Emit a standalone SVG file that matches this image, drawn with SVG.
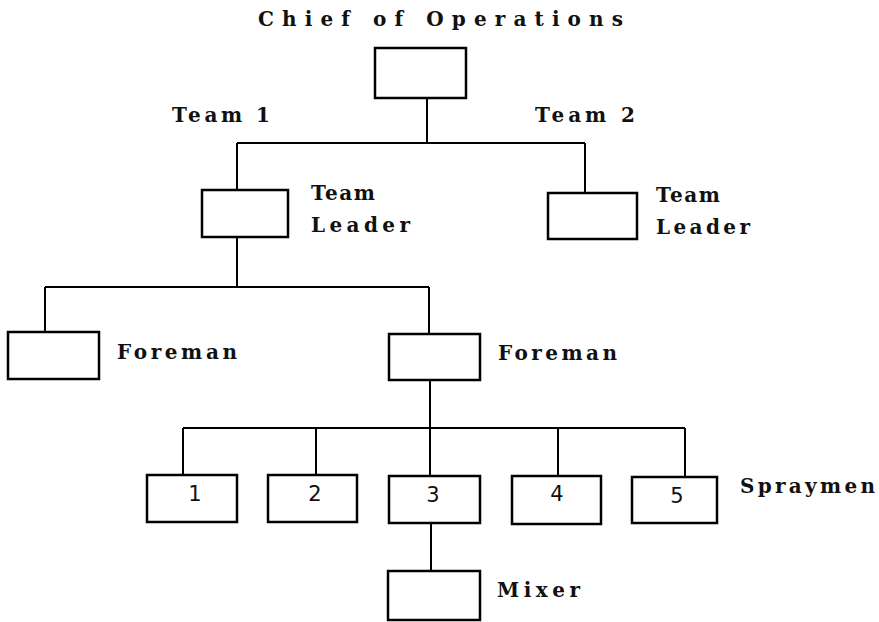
<svg xmlns="http://www.w3.org/2000/svg" width="879" height="622" viewBox="0 0 879 622">
<style>
.box{fill:none;stroke:#000;stroke-width:2.5}
.ln{fill:none;stroke:#000;stroke-width:2}
text{font-family:"DejaVu Serif","Liberation Serif",serif;font-size:20px;font-weight:bold;fill:#111}
.d{font-family:"DejaVu Sans","Liberation Sans",sans-serif;font-weight:normal;font-size:21px;text-anchor:middle}
</style>
<rect width="879" height="622" fill="#fff"/>
<g id="connectors">
<path class="ln" d="M427 98V143M237 143H585M237 143V190M585 143V193"/>
<path class="ln" d="M237 237V287M45 287H429M45 287V332M429 287V334"/>
<path class="ln" d="M430 380V428M183 428H685M183 428V475M316 428V475M430 428V476M558 428V476M685 428V477"/>
<path class="ln" d="M431 523V571"/>
</g>
<g id="chief"><rect class="box" x="375" y="48" width="91" height="50"/><text x="258" y="26" textLength="365" lengthAdjust="spacing">Chief of Operations</text></g>
<g id="team1-label"><text x="172" y="122" textLength="98" lengthAdjust="spacing">Team 1</text></g>
<g id="team2-label"><text x="535" y="122" textLength="100" lengthAdjust="spacing">Team 2</text></g>
<g id="team-leader-1"><rect class="box" x="202" y="190" width="86" height="47"/><text x="311" y="200" textLength="64" lengthAdjust="spacing">Team</text><text x="311" y="232" textLength="99" lengthAdjust="spacing">Leader</text></g>
<g id="team-leader-2"><rect class="box" x="548" y="193" width="89" height="46"/><text x="656" y="202" textLength="64" lengthAdjust="spacing">Team</text><text x="656" y="234" textLength="94" lengthAdjust="spacing">Leader</text></g>
<g id="foreman-1"><rect class="box" x="8" y="332" width="91" height="47"/><text x="117" y="359" textLength="120" lengthAdjust="spacing">Foreman</text></g>
<g id="foreman-2"><rect class="box" x="389" y="334" width="91" height="46"/><text x="498" y="360" textLength="119" lengthAdjust="spacing">Foreman</text></g>
<g id="sprayman-1"><rect class="box" x="147" y="475" width="90" height="47"/><text class="d" x="195" y="501">1</text></g>
<g id="sprayman-2"><rect class="box" x="268" y="475" width="89" height="47"/><text class="d" x="315" y="501">2</text></g>
<g id="sprayman-3"><rect class="box" x="389" y="476" width="91" height="47"/><text class="d" x="433" y="502">3</text></g>
<g id="sprayman-4"><rect class="box" x="512" y="476" width="89" height="48"/><text class="d" x="557" y="501">4</text></g>
<g id="sprayman-5"><rect class="box" x="632" y="477" width="85" height="46"/><text class="d" x="677" y="503">5</text></g>
<g id="spraymen-label"><text x="740" y="493" textLength="135" lengthAdjust="spacing">Spraymen</text></g>
<g id="mixer"><rect class="box" x="388" y="571" width="92" height="49"/><text x="497" y="597" textLength="83" lengthAdjust="spacing">Mixer</text></g>
</svg>
